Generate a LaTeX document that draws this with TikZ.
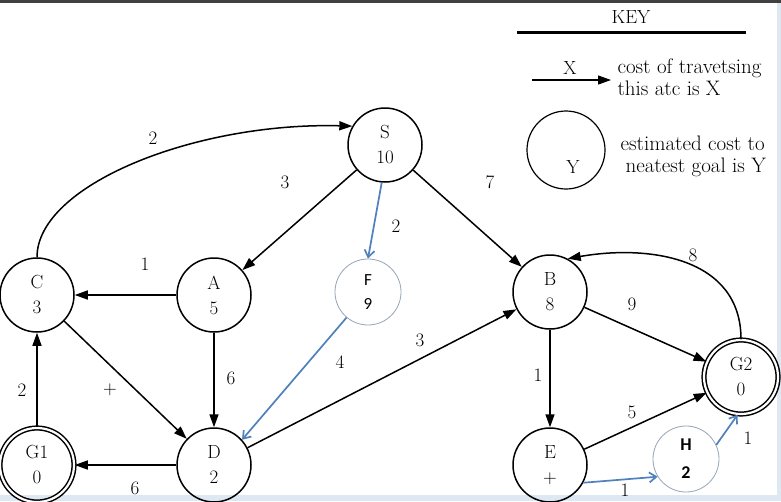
\documentclass[tikz,border=0pt]{standalone}
\usepackage{fontspec}
\newfontfamily\carl{Carlito}
\usetikzlibrary{arrows.meta}
\definecolor{lblue}{RGB}{79,129,189}
\definecolor{cgray}{RGB}{150,165,185}
\definecolor{strip}{RGB}{222,232,243}
\tikzset{
  gnode/.style={circle,draw,line width=1.5pt,minimum size=74pt,inner sep=0pt,align=center,font=\fontsize{19}{25}\selectfont},
  goal/.style={gnode,double,double distance=2.2pt},
  bnode/.style={circle,draw=cgray,line width=0.8pt,minimum size=66pt,inner sep=0pt,align=center},
  arc/.style={line width=1.5pt,-{Triangle[length=13pt,width=9pt]}},
  barc/.style={line width=1.7pt,draw=lblue,-{Straight Barb[length=7pt,width=10pt]}},
  lbl/.style={font=\fontsize{19}{21}\selectfont},
  keytxt/.style={font=\fontsize{21}{22}\selectfont,align=left,anchor=west}
}
\begin{document}
\begin{tikzpicture}[x=1pt,y=-1pt]
\useasboundingbox (0,0) rectangle (781,501);
\fill[white] (0,0) rectangle (781,501);
\fill[strip] (0,495) rectangle (781,501);
\fill[strip] (777,0) rectangle (781,501);
\fill[black!75] (0,0) rectangle (781,2.5);

% nodes
\node[gnode] (S) at (385,145) {S\\10};
\node[gnode] (C) at (37,295) {C\\3};
\node[gnode] (A) at (214,295) {A\\5};
\node[bnode,font=\carl\fontsize{17}{24}\selectfont] (F) at (368,292) {F\\9};
\node[gnode] (B) at (550,292) {B\\8};
\node[goal] (G1) at (37,465) {G1\\0};
\node[gnode] (D) at (214,465) {D\\2};
\node[gnode] (E) at (550,465) {E\\+};
\node[goal] (G2) at (741,377) {G2\\0};
\node[bnode,font=\carl\bfseries\fontsize{18}{28}\selectfont] (H) at (686,459) {H\\2};

% black arcs
\draw[arc] (C.north) .. controls (37,185) and (195,122) .. (S.150);
\draw[arc] (S) -- (A);
\draw[arc] (S) -- (B);
\draw[arc] (A) -- (C);
\draw[arc] (A) -- (D);
\draw[arc] (C) -- (D);
\draw[arc] (D) -- (B);
\draw[arc] (D) -- (G1);
\draw[arc] (G1) -- (C);
\draw[arc] (B) -- (G2);
\draw[arc] (G2.north) to[out=90,in=10,looseness=1.1] (B.62);
\draw[arc] (B) -- (E);
\draw[arc] (E) -- (G2);

% blue arcs
\draw[barc] (S.265) -- (F.north);
\draw[barc] (F.230) -- (D.42);
\draw[barc] (E.-28) -- (H.212);
\draw[barc] (H.25) -- (G2.265);

% arc labels
\node[lbl] (l1) at (153,138) {2};
\node[lbl] (l2) at (285,182) {3};
\node[lbl] (l3) at (396,226) {2};
\node[lbl] (l4) at (490,182) {7};
\node[lbl] (l5) at (145,264) {1};
\node[lbl] (l6) at (231,378) {6};
\node[lbl] (l7) at (110,390) {+};
\node[lbl] (l8) at (340,362) {4};
\node[lbl] (l9) at (420,340) {3};
\node[lbl] (l10) at (135,488) {6};
\node[lbl] (l11) at (22,390) {2};
\node[lbl] (l12) at (632,304) {9};
\node[lbl] (l13) at (693,255) {8};
\node[lbl] (l14) at (538,375) {1};
\node[lbl] (l15) at (632,412) {5};
\node[lbl] (l16) at (625,490) {1};
\node[lbl] (l17) at (748,438) {1};

% key
\node[lbl] (key) at (631,17) {KEY};
\coordinate (k1) at (517,32);
\coordinate (k2) at (746,32);
\draw[line width=3pt] (k1) -- (k2);
\coordinate (ka) at (532,80);
\coordinate (kb) at (611,80);
\draw[arc,line width=1.2pt] (ka) -- (kb);
\node[lbl] (kx) at (570,68) {X};
\node[keytxt] (kt1) at (614,77) {cost of travetsing\\this atc is X};
\node[gnode,line width=1.2pt,minimum size=78pt] (ky) at (566,150) {};
\node[lbl] (kyl) at (573,167) {Y};
\node[keytxt] (kt2) at (617,156) {estimated cost to\\\hspace*{5pt}neatest goal is Y};
\end{tikzpicture}
\end{document}
